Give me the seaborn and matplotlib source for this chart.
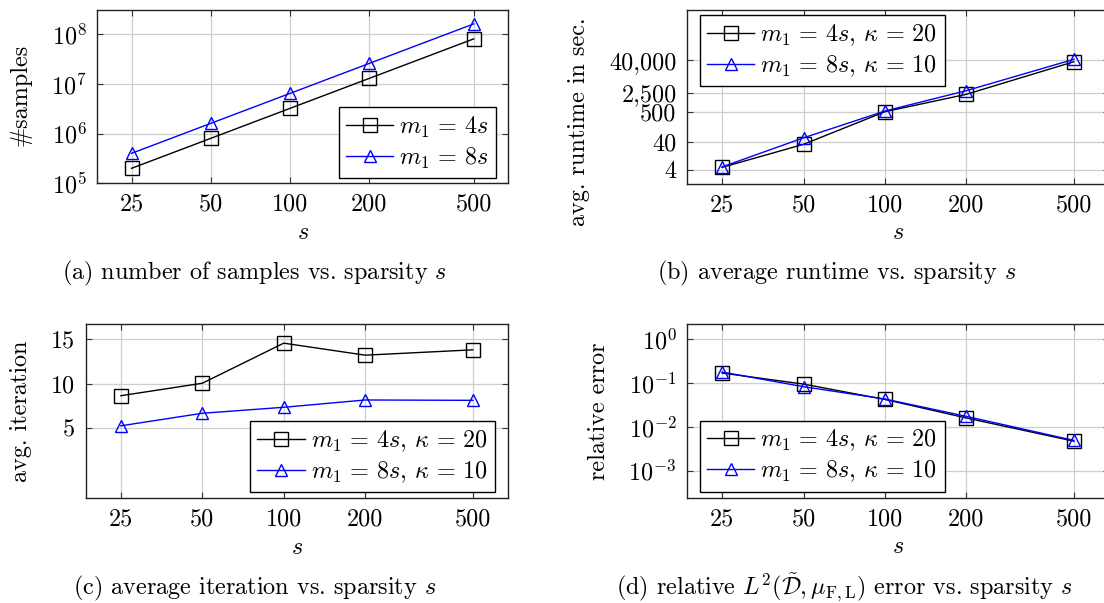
import numpy as np
import pandas as pd
import matplotlib
matplotlib.use("Agg")
import matplotlib.pyplot as plt
import seaborn as sns
from matplotlib.ticker import NullLocator, LogLocator, NullFormatter

plt.rcParams['font.family'] = 'serif'
plt.rcParams['font.serif'] = ['cmr10']
plt.rcParams['mathtext.fontset'] = 'cm'
plt.rcParams['axes.formatter.use_mathtext'] = True
plt.rcParams['axes.unicode_minus'] = False

# data
s_vals = [25, 50, 100, 200, 500]
s_labels = ['25', '50', '100', '200', '500']

samples_4s = [2.0e5, 8.0e5, 3.2e6, 1.28e7, 8.0e7]
samples_8s = [4.0e5, 1.6e6, 6.4e6, 2.56e7, 1.6e8]

runtime_4s = [4.8, 33.5, 524, 2275, 35500]
runtime_8s = [5.0, 58, 555, 3090, 43500]

iter_4s = [8.65, 10.05, 14.55, 13.2, 13.8]
iter_8s = [5.27, 6.68, 7.35, 8.17, 8.13]

err_4s = [0.168, 0.094, 0.042, 0.0159, 0.0047]
err_8s = [0.177, 0.082, 0.043, 0.0173, 0.0049]

runtime_ticks = [4, 40, 500, 2500, 40000]
runtime_ticklabels = ['4', '40', '500', '2,500', '40,000']
samples_ticks = [1e5, 1e6, 1e7, 1e8]
samples_ticklabels = [r'$10^{5}$', r'$10^{6}$', r'$10^{7}$', r'$10^{8}$']
iter_ticks = [5, 10, 15]
iter_ticklabels = ['5', '10', '15']
err_ticks = [1e-3, 1e-2, 1e-1, 1e0]
err_ticklabels = [r'$10^{-3}$', r'$10^{-2}$', r'$10^{-1}$', r'$10^{0}$']

lab_a = [r'$m_1 \,=\, 4s$', r'$m_1 \,=\, 8s$']
lab_k = [r'$m_1 \,=\, 4s$, $\kappa \,=\, 20$', r'$m_1 \,=\, 8s$, $\kappa \,=\, 10$']

FS = 17.4
W, H = 1104, 603


def rect(l, r, t, b):
    return [l / W, 1 - b / H, (r - l) / W, (b - t) / H]


fig = plt.figure(figsize=(W / 100, H / 100), dpi=100)
ax_a = fig.add_axes(rect(97.3, 508, 10, 183.3))
ax_b = fig.add_axes(rect(687, 1109, 10, 183.7))
ax_c = fig.add_axes(rect(85.7, 508, 324, 497.7))
ax_d = fig.add_axes(rect(687, 1109, 324, 498.3))

xlo = 25 / (500 / 25) ** 0.1
xhi = 500 * (500 / 25) ** 0.1


def draw(ax, y1, y2, labels):
    df = pd.DataFrame({'s': s_vals, 'a': y1, 'b': y2})
    sns.lineplot(data=df, x='s', y='a', ax=ax, color='black', lw=1.0,
                 marker='s', markersize=9.6, markerfacecolor='none',
                 markeredgecolor='black', markeredgewidth=1.0, label=labels[0])
    sns.lineplot(data=df, x='s', y='b', ax=ax, color='#0000ff', lw=1.0,
                 marker='^', markersize=8.8, markerfacecolor='none',
                 markeredgecolor='#0000ff', markeredgewidth=1.0, label=labels[1])


def style(ax):
    ax.set_xscale('log')
    ax.set_xlim(xlo, xhi)
    ax.set_xticks(s_vals, labels=s_labels)
    ax.xaxis.set_minor_locator(NullLocator())
    ax.grid(True, which='major', color='#cfcfcf', lw=0.9)
    ax.set_axisbelow(True)
    ax.tick_params(which='both', direction='in', top=True, right=True, color='#333333')
    ax.tick_params(which='major', length=4.5, width=0.8, labelsize=FS, pad=7.5)
    ax.tick_params(which='minor', length=3, width=0.6, color='#777777')
    for sp in ax.spines.values():
        sp.set_linewidth(1.0)
        sp.set_color('#222222')
    ax.set_xlabel('$s$', fontsize=FS)
    ax.xaxis.label.set_verticalalignment('center')


def legend(ax, loc, anchor):
    leg = ax.legend(loc=loc, bbox_to_anchor=anchor, borderaxespad=0, frameon=True,
                    fancybox=False, edgecolor='black', framealpha=1, fontsize=FS,
                    handlelength=1.95, handletextpad=0.25, borderpad=0.3,
                    labelspacing=0.24)
    leg.get_frame().set_linewidth(1.0)


def ylab(ax, text, x, y):
    ax.set_ylabel(text, fontsize=FS)
    ax.yaxis.label.set_verticalalignment('center')
    ax.yaxis.label.set_horizontalalignment('center')
    ax.yaxis.set_label_coords(x, y)


# (a) number of samples
draw(ax_a, samples_4s, samples_8s, lab_a)
style(ax_a)
ax_a.set_yscale('log')
ax_a.set_ylim(1e5, 3.04e8)
ax_a.set_yticks(samples_ticks, labels=samples_ticklabels)
ax_a.yaxis.set_minor_locator(LogLocator(base=10, subs=np.arange(2, 10)))
ax_a.yaxis.set_minor_formatter(NullFormatter())
ylab(ax_a, '#samples', -0.186, 0.51)
ax_a.xaxis.set_label_coords(0.5, -0.287)
legend(ax_a, 'lower right', (0.971, 0.031))

# (b) runtime
draw(ax_b, runtime_4s, runtime_8s, lab_k)
style(ax_b)
ax_b.set_yscale('log')
ax_b.set_ylim(1.21, 2.79e6)
ax_b.set_yticks(runtime_ticks, labels=runtime_ticklabels)
ax_b.yaxis.set_minor_locator(NullLocator())
ylab(ax_b, 'avg. runtime in sec.', -0.256, 0.355)
ax_b.xaxis.set_label_coords(0.5, -0.284)
legend(ax_b, 'upper left', (0.031, 0.971))

# (c) iterations
draw(ax_c, iter_4s, iter_8s, lab_k)
style(ax_c)
ax_c.set_ylim(-2.8, 16.7)
ax_c.set_yticks(iter_ticks, labels=iter_ticklabels)
ax_c.yaxis.set_minor_locator(NullLocator())
ylab(ax_c, 'avg. iteration', -0.153, 0.5)
ax_c.xaxis.set_label_coords(0.5, -0.29)
legend(ax_c, 'lower right', (0.969, 0.031))

# (d) relative error
draw(ax_d, err_4s, err_8s, lab_k)
style(ax_d)
ax_d.set_yscale('log')
ax_d.set_ylim(2.35e-4, 2.2)
ax_d.set_yticks(err_ticks, labels=err_ticklabels)
ax_d.yaxis.set_minor_locator(LogLocator(base=10, subs=np.arange(2, 10)))
ax_d.yaxis.set_minor_formatter(NullFormatter())
ylab(ax_d, 'relative error', -0.209, 0.5)
ax_d.xaxis.set_label_coords(0.5, -0.28)
legend(ax_d, 'lower left', (0.031, 0.038))

# captions
fig.text(254 / W, 1 - 273 / H, r'(a) number of samples vs. sparsity $s$',
         ha='center', va='center', fontsize=FS)
fig.text(837 / W, 1 - 273 / H, r'(b) average runtime vs. sparsity $s$',
         ha='center', va='center', fontsize=FS)
fig.text(254.5 / W, 1 - 588 / H, r'(c) average iteration vs. sparsity $s$',
         ha='center', va='center', fontsize=FS)
fig.text(844 / W, 1 - 588 / H,
         r'(d) relative $L^2(\tilde{\mathcal{D}}, \mu_{\mathrm{F,L}})$ error vs. sparsity $s$',
         ha='center', va='center', fontsize=FS)

fig.savefig('out.png', dpi=100)
